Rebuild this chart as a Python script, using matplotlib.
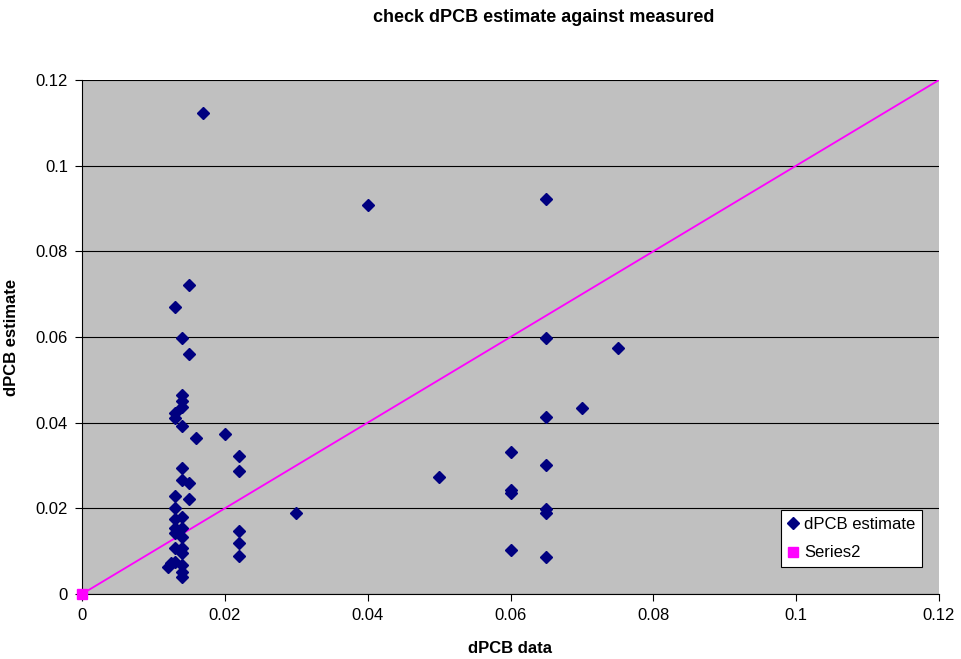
import matplotlib
matplotlib.use("Agg")
import matplotlib.pyplot as plt
import numpy as np

plt.rcParams['font.family'] = ['Liberation Sans', 'DejaVu Sans']

# dPCB estimate series (x = measured data, y = estimate)
data_x = [0.017, 0.040, 0.065, 0.015, 0.013, 0.014, 0.015, 0.065, 0.075, 0.070,
          0.065, 0.014, 0.014, 0.014, 0.013, 0.013, 0.014, 0.016, 0.020, 0.022,
          0.022, 0.014, 0.014, 0.015, 0.015, 0.013, 0.013, 0.014, 0.013, 0.013,
          0.014, 0.013, 0.014, 0.013, 0.014, 0.014, 0.012, 0.0125, 0.013, 0.014,
          0.014, 0.014, 0.022, 0.022, 0.022, 0.060, 0.065, 0.060, 0.060, 0.065,
          0.065, 0.060, 0.065, 0.050, 0.030]
estimate_y = [0.1123, 0.0908, 0.0922, 0.0722, 0.0671, 0.0597, 0.0560, 0.0597, 0.0574, 0.0434,
              0.0413, 0.0465, 0.0451, 0.0437, 0.0422, 0.0410, 0.0392, 0.0364, 0.0374, 0.0322,
              0.0288, 0.0294, 0.0265, 0.0260, 0.0221, 0.0229, 0.0201, 0.0179, 0.0174, 0.0153,
              0.0155, 0.0142, 0.0134, 0.0107, 0.0107, 0.0095, 0.0064, 0.0072, 0.0075, 0.0068,
              0.0052, 0.0040, 0.0148, 0.0118, 0.0089, 0.0332, 0.0301, 0.0242, 0.0236, 0.0198,
              0.0190, 0.0103, 0.0087, 0.0273, 0.0189]

# Series2: 1:1 reference line
series2_x = [0.0, 0.12]
series2_y = [0.0, 0.12]

ticks = [0, 0.02, 0.04, 0.06, 0.08, 0.1, 0.12]
tick_labels = ["0", "0.02", "0.04", "0.06", "0.08", "0.1", "0.12"]

fig = plt.figure(figsize=(9.61, 6.59), dpi=100)
ax = fig.add_axes([82/961, 1-594/659, (939-82)/961, (594-80)/659])
ax.set_facecolor('#C0C0C0')

ax.plot(series2_x, series2_y, color='#FF00FF', lw=1.3, zorder=2)
ax.plot(series2_x[:1], series2_y[:1], 's', color='#FF00FF', ms=7, zorder=4,
        clip_on=False, label='Series2')
ax.plot(data_x, estimate_y, 'D', color='#000080', ms=6.5, ls='none', zorder=3,
        label='dPCB estimate')

ax.set_xlim(0, 0.12)
ax.set_ylim(0, 0.12)
ax.set_xticks(ticks)
ax.set_xticklabels(tick_labels)
ax.set_yticks(ticks)
ax.set_yticklabels(tick_labels)
ax.yaxis.grid(True, color='black', lw=0.8)
ax.set_axisbelow(True)
for s in ['top', 'right']:
    ax.spines[s].set_visible(False)
for s in ['left', 'bottom']:
    ax.spines[s].set_color('black')
    ax.spines[s].set_linewidth(0.8)
ax.tick_params(axis='both', direction='out', length=5, width=0.8, labelsize=12, pad=5)

ax.set_xlabel('dPCB data', fontsize=12, fontweight='bold', labelpad=13)
ax.set_ylabel('dPCB estimate', fontsize=12, fontweight='bold', labelpad=12)
fig.text(544 / 961, 1 - 17/659, 'check dPCB estimate against measured',
         ha='center', va='center', fontsize=13, fontweight='bold')

h, l = ax.get_legend_handles_labels()
leg = ax.legend(h[::-1], l[::-1], loc='lower right', bbox_to_anchor=(922/961, 1-567/659),
                bbox_transform=fig.transFigure, fontsize=12, frameon=True,
                fancybox=False, edgecolor='black', framealpha=1,
                handlelength=0.7, handletextpad=0.3, borderpad=0.4, labelspacing=0.8,
                borderaxespad=0)
leg.get_frame().set_linewidth(0.8)

fig.savefig('out.png', dpi=100)
